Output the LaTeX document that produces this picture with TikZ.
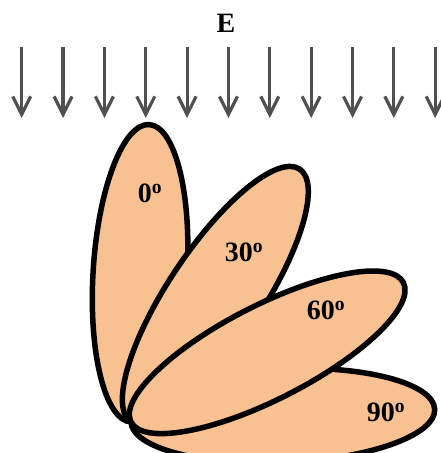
\documentclass[tikz,border=0pt]{standalone}
\usepackage{fontspec}
\setmainfont{Liberation Serif}
\usetikzlibrary{arrows.meta}
\definecolor{lobefill}{RGB}{248,193,145}
\definecolor{fieldgray}{RGB}{80,80,80}

\begin{document}
\begin{tikzpicture}[x=1pt, y=1pt,
                    field/.style={draw=fieldgray, line width=3.2pt, -{Straight Barb[length=18pt,width=18pt]}},
                    lobe/.style={draw=black, fill=lobefill, line width=5.5pt},
                    angle label/.style={font=\fontsize{28}{30}\selectfont\bfseries, inner sep=0pt}]
  \useasboundingbox (0,0) rectangle (441,453);

  % Campo incidente dall'alto
  \node[angle label] (E) at (226,430) {E};
  \foreach \i in {0,...,10} {
    \coordinate (top\i) at ({21.7+41.35*\i},406);
    \coordinate (tip\i) at ({21.7+41.35*\i},335);
    \draw[field] (top\i) -- (tip\i);
  }

  % Lobi ruotati attorno al punto comune (90 sotto, 60 sopra)
  \coordinate (pivot) at (131,31);
  \foreach \a/\len in {87.6/152, 3.5/149, 33.7/152, 62.9/153} {
    \begin{scope}[shift={(pivot)}, rotate=-\a]
      \draw[lobe] (0,\len) ellipse [x radius=47, y radius=\len];
    \end{scope}
  }

  % Etichette degli angoli
  \node[angle label] (l0)  at (150,260) {0\textsuperscript{o}};
  \node[angle label] (l30) at (244,201) {30\textsuperscript{o}};
  \node[angle label] (l60) at (326,143) {60\textsuperscript{o}};
  \node[angle label] (l90) at (386,41)  {90\textsuperscript{o}};

\end{tikzpicture}
\end{document}
